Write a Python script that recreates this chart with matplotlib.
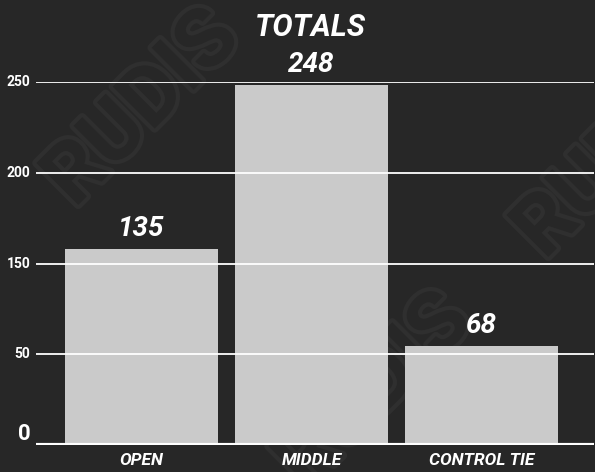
import matplotlib
matplotlib.use('Agg')
import matplotlib.pyplot as plt
import matplotlib.patheffects as pe
import numpy as np

# data
categories = ['OPEN', 'MIDDLE', 'CONTROL TIE']
totals = [135, 248, 68]
tick_labels = ['0', '50', '150', '200', '250']

bg = '#272727'
barcol = '#cacaca'
font = ['Roboto', 'DejaVu Sans']

fig = plt.figure(figsize=(5.95, 4.72), dpi=100, facecolor=bg)

# watermark behind everything
wm = fig.add_axes([0, 0, 1, 1], zorder=0)
wm.set_axis_off()
for (wx, wy) in [(0.24, 0.77), (0.63, 0.17), (1.03, 0.66)]:
    wm.text(wx, wy, 'RUDIS', rotation=45, fontsize=60, fontweight='bold',
            color=bg, ha='center', va='center', family=font,
            transform=wm.transAxes,
            path_effects=[pe.withStroke(linewidth=6, foreground='#2f2f2f')])

ax = fig.add_axes([36/595, 27/472, 558/595, 363/472], zorder=1)
ax.patch.set_visible(False)

x = np.arange(len(categories))
ax.bar(x, totals, width=0.9, color=barcol, zorder=2)

ticks = np.linspace(0, 250, len(tick_labels))
ax.set_yticks(ticks)
ax.set_yticklabels(tick_labels)
for t in ticks[1:]:
    ax.axhline(t, color='white', lw=1.3, zorder=3)
ax.axhline(0, color='white', lw=3, zorder=3)

ax.set_xlim(-0.62, 2.66)
ax.set_ylim(0, 250)
ax.set_xticks(x)
ax.set_xticklabels(categories)
ax.tick_params(length=0, colors='white')
ax.tick_params(axis='y', pad=4)
ax.tick_params(axis='x', pad=6)
for lab in ax.get_xticklabels():
    lab.set_family(font)
    lab.set_fontsize(12.5)
    lab.set_fontweight('bold')
    lab.set_fontstyle('italic')
for lab in ax.get_yticklabels():
    lab.set_family(font)
    lab.set_fontweight('bold')
    if lab.get_text() == '0':
        lab.set_fontsize(16)
        lab.set_va('bottom')
    else:
        lab.set_fontsize(10)
        lab.set_va('center')

for s in ax.spines.values():
    s.set_visible(False)

for xi, v in zip(x, totals):
    ax.annotate(str(v), (xi, v), xytext=(0, 5), textcoords='offset points',
                ha='center', va='bottom', color='white', fontsize=20,
                fontweight='bold', fontstyle='italic',
                family=font, annotation_clip=False, zorder=4)

fig.text(310/595, 1 - 28/472, 'TOTALS', ha='center', va='center', color='white',
         fontsize=22, fontweight='bold', fontstyle='italic',
         family=font, zorder=5)

fig.savefig('out.png', dpi=100, facecolor=bg)
